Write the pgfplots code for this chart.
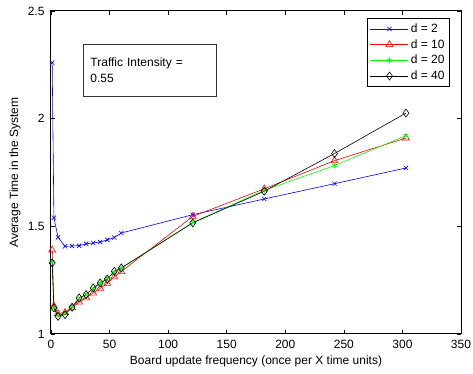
\documentclass[border=0pt]{standalone}
\usepackage{fontspec}
\setmainfont{Liberation Sans}
\usepackage{pgfplots}
\pgfplotsset{compat=1.18}
\begin{document}
\begin{tikzpicture}
\begin{axis}[
  scale only axis, width=410pt, height=323pt,
  xmin=0, xmax=350, ymin=1, ymax=2.5,
  xtick={0,50,...,350}, ytick={1,1.5,2,2.5},
  tick align=inside, major tick length=4pt,
  /pgf/number format/assume math mode=true,
  tick label style={font=\fontsize{12}{14}\selectfont},
  xticklabel style={yshift=-3pt},
  yticklabel style={xshift=-3pt},
  label style={font=\fontsize{12}{14}\selectfont},
  xlabel={Board update frequency (once per X time units)},
  ylabel={Average Time in the System},
  xlabel style={at={(axis description cs:0.5,-0.0836)}, anchor=center},
  ylabel style={at={(axis description cs:-0.088,0.5)}, anchor=center},
  axis line style={line width=1pt},
  every tick/.style={black, line width=0.5pt},
  legend style={at={(0.973,0.977)}, anchor=north east, font=\fontsize{12}{14}\selectfont,
    draw=black, line width=0.9pt, inner xsep=3pt, inner ysep=3pt, row sep=1.5pt},
  legend cell align=left,
  legend image code/.code={\draw[mark repeat=2,mark phase=2] plot coordinates {(0pt,0pt) (19pt,0pt) (38pt,0pt)};},
]
\addplot[blue, line width=0.6pt, mark=x, mark size=3pt, mark options={line width=0.6pt}] coordinates {
(1,2.26) (2.5,1.54) (6,1.449) (12,1.407) (18,1.409) (24,1.410) (30,1.419) (36,1.423) (42,1.427) (48,1.437) (54,1.448) (60,1.469) (121,1.554) (182,1.627) (242,1.698) (303,1.771)};
\addlegendentry{d = 2}
\addplot[red, line width=0.6pt, mark=triangle, mark size=4pt, mark options={line width=0.6pt}] coordinates {
(1,1.39) (2.5,1.13) (6,1.095) (12,1.10) (18,1.122) (24,1.148) (30,1.168) (36,1.19) (42,1.212) (48,1.235) (54,1.265) (60,1.29) (121,1.546) (182,1.674) (242,1.805) (303,1.910)};
\addlegendentry{d = 10}
\addplot[green, line width=0.6pt, mark=asterisk, mark size=3pt, mark options={line width=0.6pt}] coordinates {
(1,1.335) (2.5,1.12) (6,1.088) (12,1.095) (18,1.125) (24,1.165) (30,1.185) (36,1.21) (42,1.235) (48,1.26) (54,1.285) (60,1.305) (121,1.518) (182,1.667) (242,1.782) (303,1.921)};
\addlegendentry{d = 20}
\addplot[black, line width=0.6pt, mark=diamond, mark size=4pt, mark options={line width=0.6pt}] coordinates {
(1,1.33) (2.5,1.121) (6,1.082) (12,1.09) (18,1.124) (24,1.168) (30,1.183) (36,1.214) (42,1.237) (48,1.255) (54,1.291) (60,1.307) (121,1.516) (182,1.663) (242,1.838) (303,2.026)};
\addlegendentry{d = 40}
\node[draw=black!80, line width=0.7pt, anchor=north west, align=left, inner xsep=7pt, inner ysep=4pt,
  text width=119pt, minimum height=52pt, font=\fontsize{12}{15.5}\selectfont]
  at (axis cs:27.4,2.347) {Traffic Intensity =\\0.55};
\end{axis}
\pgfresetboundingbox
\useasboundingbox (-51pt,-40pt) rectangle (422pt,334pt);
\end{tikzpicture}
\end{document}
